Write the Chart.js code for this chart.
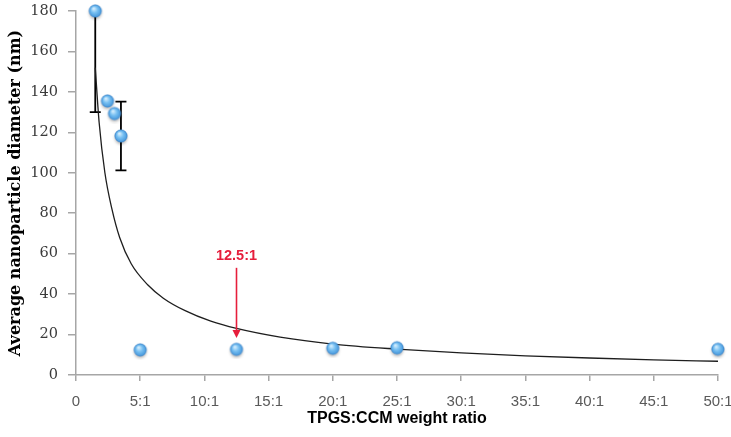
<!DOCTYPE html>
<html>
<head>
<meta charset="utf-8">
<script src="https://cdn.jsdelivr.net/npm/chart.js@4/dist/chart.umd.min.js"></script>
<style>
  html, body { margin: 0; padding: 0; background: #ffffff; }
  #wrap { width: 731px; height: 437px; }
</style>
</head>
<body>
<div id="wrap"><canvas id="c" width="731" height="437"></canvas></div>
<script>
// ---- data ----
const ratios    = [1.5, 2.45, 3.0, 3.5, 5, 12.5, 20, 25, 50];
const diameters = [180, 135.5, 129.3, 118.2, 12.4, 12.7, 13.2, 13.5, 12.7];
const errors    = [50, 0, 0, 17, 0, 0, 0, 0, 0];

// trend curve
const trendX = [1.5, 1.8, 2.25, 2.8, 3.4, 4.3, 5.6, 6.8, 8.5, 10.5, 12.5, 15.9, 20, 25, 30, 35, 40, 45, 50];
const trendY = [152, 125, 100, 82, 68, 55, 44.5, 38, 31.8, 26.6, 23, 18.7, 15.3, 12.8, 10.9, 9.5, 8.4, 7.5, 6.8];

const xTicks = [0, 5, 10, 15, 20, 25, 30, 35, 40, 45, 50];
const yTicks = [0, 20, 40, 60, 80, 100, 120, 140, 160, 180];

const annotationX = 12.5;
const annotationLabel = '12.5:1';
const annotationFrom = 53;   // arrow start value
const annotationTo = 18.3;   // arrow tip value
const annotationTextY = 59;

// ---- marker image ----
function makeMarker() {
  const c = document.createElement('canvas');
  c.width = 20; c.height = 20;
  const g = c.getContext('2d');
  g.save();
  g.shadowColor = 'rgba(0,0,0,0.28)';
  g.shadowBlur = 3;
  g.shadowOffsetY = 2;
  const grad = g.createRadialGradient(8.3, 7.5, 0.5, 10, 10, 6.6);
  grad.addColorStop(0, '#d4edfd');
  grad.addColorStop(0.45, '#78c0f2');
  grad.addColorStop(1, '#3f92d8');
  g.fillStyle = grad;
  g.beginPath();
  g.arc(10, 10, 6.2, 0, Math.PI * 2);
  g.fill();
  g.restore();
  g.strokeStyle = 'rgba(60,130,200,0.8)';
  g.lineWidth = 0.7;
  g.beginPath();
  g.arc(10, 10, 6.2, 0, Math.PI * 2);
  g.stroke();
  return c;
}

const errorBarPlugin = {
  id: 'errorBars',
  beforeDatasetsDraw(chart) {
    const { ctx, chartArea, scales: { x, y } } = chart;
    ctx.save();
    ctx.strokeStyle = '#000';
    ctx.lineWidth = 1.8;
    const capHalf = 5.5;
    ratios.forEach((r, i) => {
      const e = errors[i];
      if (!e) return;
      const px = x.getPixelForValue(r);
      const top = y.getPixelForValue(diameters[i] + e);
      const bot = y.getPixelForValue(diameters[i] - e);
      const topC = Math.max(top, chartArea.top);
      ctx.beginPath();
      ctx.moveTo(px, topC);
      ctx.lineTo(px, bot);
      ctx.moveTo(px - capHalf, bot);
      ctx.lineTo(px + capHalf, bot);
      if (top >= chartArea.top) {
        ctx.moveTo(px - capHalf, top);
        ctx.lineTo(px + capHalf, top);
      }
      ctx.stroke();
    });
    ctx.restore();
  }
};

const annotationPlugin = {
  id: 'arrowNote',
  afterDatasetsDraw(chart) {
    const { ctx, scales: { x, y } } = chart;
    const px = x.getPixelForValue(annotationX);
    const y0 = y.getPixelForValue(annotationFrom);
    const y1 = y.getPixelForValue(annotationTo);
    ctx.save();
    ctx.strokeStyle = '#e61e3c';
    ctx.fillStyle = '#e61e3c';
    ctx.lineWidth = 1.6;
    ctx.beginPath();
    ctx.moveTo(px, y0);
    ctx.lineTo(px, y1 - 7);
    ctx.stroke();
    ctx.beginPath();
    ctx.moveTo(px - 4, y1 - 8);
    ctx.lineTo(px + 4, y1 - 8);
    ctx.lineTo(px, y1);
    ctx.closePath();
    ctx.fill();
    ctx.font = 'bold 14.5px "Liberation Sans", Arial, sans-serif';
    ctx.textAlign = 'center';
    ctx.textBaseline = 'middle';
    ctx.fillText(annotationLabel, px, y.getPixelForValue(annotationTextY));
    ctx.restore();
  }
};

const points = ratios.map((r, i) => ({ x: r, y: diameters[i] }));
const trend = trendX.map((v, i) => ({ x: v, y: trendY[i] }));

new Chart(document.getElementById('c'), {
  type: 'scatter',
  data: {
    datasets: [
      {
        type: 'line',
        data: trend,
        borderColor: '#1e1e1e',
        borderWidth: 1.3,
        pointRadius: 0,
        cubicInterpolationMode: 'monotone',
        fill: false,
        order: 2
      },
      {
        data: points,
        pointStyle: makeMarker(),
        pointRadius: 6,
        clip: false,
        order: 1
      }
    ]
  },
  options: {
    responsive: false,
    animation: false,
    devicePixelRatio: 1,
    layout: { padding: { left: 0, right: 13, top: 11, bottom: 0 } },
    plugins: { legend: { display: false }, tooltip: { enabled: false } },
    scales: {
      x: {
        type: 'linear',
        min: 0, max: 50,
        afterBuildTicks: s => { s.ticks = xTicks.map(v => ({ value: v })); },
        afterFit: s => { s.height = 62; s.paddingLeft = 0; s.paddingRight = 0; },
        ticks: {
          callback: v => (v === 0 ? '0' : v + ':1'),
          color: '#595959',
          font: { family: '"Liberation Sans", Arial, sans-serif', size: 15 },
          padding: 12,
          maxRotation: 0,
          autoSkip: false
        },
        grid: { display: true, drawOnChartArea: false, drawTicks: true, tickLength: 6, color: '#a6a6a6', lineWidth: 1.5 },
        border: { display: true, color: '#a6a6a6', width: 1.5 },
        title: {
          display: true,
          text: 'TPGS:CCM weight ratio',
          color: '#000',
          font: { family: '"Liberation Sans", Arial, sans-serif', size: 16, weight: 'bold' },
          padding: { top: 0, bottom: 9 }
        }
      },
      y: {
        type: 'linear',
        min: 0, max: 180,
        afterBuildTicks: s => { s.ticks = yTicks.map(v => ({ value: v })); },
        afterFit: s => { s.width = 76; s.paddingTop = 0; s.paddingBottom = 0; },
        ticks: {
          color: '#3a3a3a',
          font: { family: '"DejaVu Serif", serif', size: 14.5 },
          padding: 10
        },
        grid: { display: true, drawOnChartArea: false, drawTicks: true, tickLength: 8, color: '#a6a6a6', lineWidth: 1.5 },
        border: { display: true, color: '#a6a6a6', width: 1.5 },
        title: {
          display: true,
          text: 'Average nanoparticle diameter (nm)',
          color: '#000',
          font: { family: '"DejaVu Serif", serif', size: 16, weight: 'bold' },
          padding: { top: 6, bottom: 0 }
        }
      }
    }
  },
  plugins: [errorBarPlugin, annotationPlugin]
});
</script>
</body>
</html>
